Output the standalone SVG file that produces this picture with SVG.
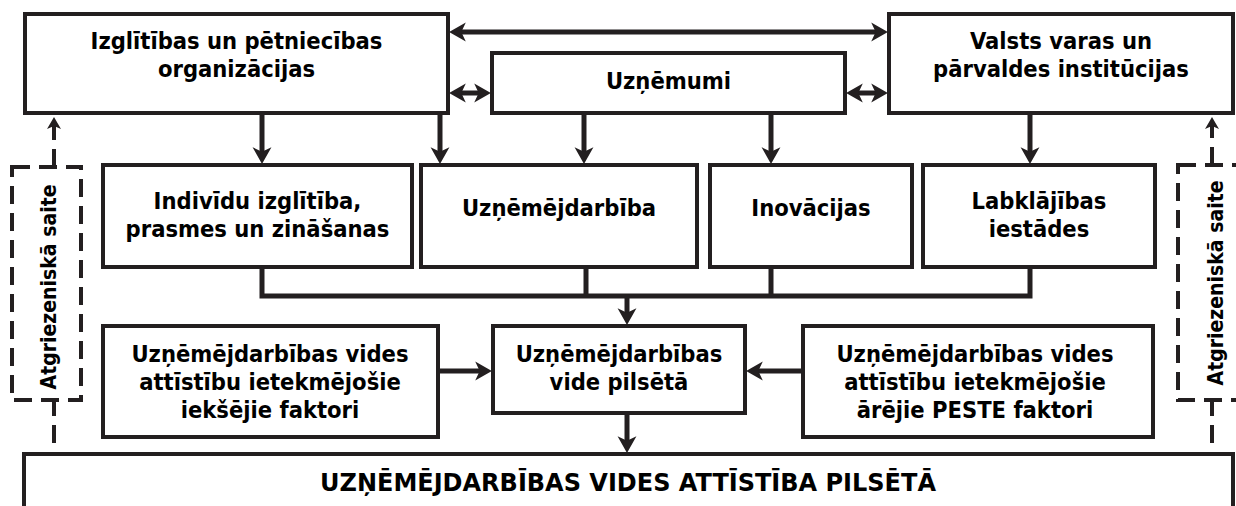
<svg xmlns="http://www.w3.org/2000/svg" width="1236" height="506" viewBox="0 0 1236 506">
<style>
.box{fill:#fff;stroke:#231f20;stroke-width:4}
.t{font-family:"DejaVu Sans Condensed","DejaVu Sans",sans-serif;font-weight:bold;font-size:23.5px;fill:#000;text-anchor:middle}
.c{fill:none;stroke:#231f20;stroke-width:5}
.d{fill:none;stroke:#231f20;stroke-width:4;stroke-dasharray:18 9}
</style>
<defs>
<marker id="ah" markerUnits="userSpaceOnUse" markerWidth="20" markerHeight="20" viewBox="0 -9 16 18" refX="7" refY="0" orient="auto-start-reverse">
<path d="M0,-8.5 L15,0 L0,8.5 L4,0 Z" fill="#231f20"/>
</marker>
<marker id="ahs" markerUnits="userSpaceOnUse" markerWidth="16" markerHeight="16" viewBox="0 -8 14 16" refX="5" refY="0" orient="auto">
<path d="M0,-7 L12,0 L0,7 L3,0 Z" fill="#231f20"/>
</marker>
</defs>

<g id="connectors">
<path class="c" d="M458,32 H879" marker-start="url(#ah)" marker-end="url(#ah)"/>
<path class="c" d="M458,93 H482" marker-start="url(#ah)" marker-end="url(#ah)"/>
<path class="c" d="M855,93 H879" marker-start="url(#ah)" marker-end="url(#ah)"/>
<path class="c" d="M262,115 V155" marker-end="url(#ah)"/>
<path class="c" d="M440,115 V155" marker-end="url(#ah)"/>
<path class="c" d="M584,115 V155" marker-end="url(#ah)"/>
<path class="c" d="M771,115 V155" marker-end="url(#ah)"/>
<path class="c" d="M1030,115 V155" marker-end="url(#ah)"/>
<path class="c" d="M262,267 V296 H1030 V267 M586,267 V296 M771,267 V296"/>
<path class="c" d="M627,296 V316" marker-end="url(#ah)"/>
<path class="c" d="M440,371 H483" marker-end="url(#ah)"/>
<path class="c" d="M801,371 H755" marker-end="url(#ah)"/>
<path class="c" d="M627,415 V444" marker-end="url(#ah)"/>
<path class="d" d="M54,443 V400"/>
<path class="d" d="M54,167 V124" marker-end="url(#ahs)"/>
<path class="d" d="M1212,443 V400"/>
<path class="d" d="M1212,165 V124" marker-end="url(#ahs)"/>
</g>

<g id="feedback-left">
<rect x="12" y="167" width="69" height="233" class="d"/>
<text class="t" style="font-size:21px" transform="translate(56,287) rotate(-90)">Atgriezeniskā saite</text>
</g>
<g id="feedback-right">
<rect x="1178" y="165" width="80" height="235" class="d"/>
<text class="t" style="font-size:21px" transform="translate(1223,283) rotate(-90)">Atgriezeniskā saite</text>
</g>

<g id="izglitibas-org">
<rect x="25" y="14" width="423" height="99" class="box"/>
<text class="t" x="236.5" y="49">Izglītības un pētniecības</text>
<text class="t" x="236.5" y="77">organizācijas</text>
</g>
<g id="uznemumi">
<rect x="492" y="53" width="353" height="60" class="box"/>
<text class="t" x="668.5" y="89">Uzņēmumi</text>
</g>
<g id="valsts">
<rect x="889" y="14" width="344" height="99" class="box"/>
<text class="t" x="1061" y="49">Valsts varas un</text>
<text class="t" x="1061" y="77">pārvaldes institūcijas</text>
</g>

<g id="individu">
<rect x="103" y="165" width="309" height="102" class="box"/>
<text class="t" x="257.5" y="209">Indivīdu izglītība,</text>
<text class="t" x="257.5" y="237">prasmes un zināšanas</text>
</g>
<g id="uznemejdarbiba">
<rect x="421" y="165" width="276" height="102" class="box"/>
<text class="t" x="559" y="216">Uzņēmējdarbība</text>
</g>
<g id="inovacijas">
<rect x="710" y="165" width="202" height="102" class="box"/>
<text class="t" x="811" y="216">Inovācijas</text>
</g>
<g id="labklajibas">
<rect x="923" y="165" width="232" height="102" class="box"/>
<text class="t" x="1039" y="209">Labklājības</text>
<text class="t" x="1039" y="237">iestādes</text>
</g>

<g id="iekseji">
<rect x="103" y="326" width="335" height="111" class="box"/>
<text class="t" x="270" y="362">Uzņēmējdarbības vides</text>
<text class="t" x="270" y="390">attīstību ietekmējošie</text>
<text class="t" x="270" y="418">iekšējie faktori</text>
</g>
<g id="vide-pilseta">
<rect x="493" y="326" width="252" height="87" class="box"/>
<text class="t" x="619" y="362">Uzņēmējdarbības</text>
<text class="t" x="619" y="390">vide pilsētā</text>
</g>
<g id="areji">
<rect x="803" y="326" width="350" height="111" class="box"/>
<text class="t" x="975" y="362">Uzņēmējdarbības vides</text>
<text class="t" x="975" y="390">attīstību ietekmējošie</text>
<text class="t" x="975" y="418">ārējie PESTE faktori</text>
</g>

<g id="attistiba">
<rect x="24" y="454" width="1209" height="70" class="box"/>
<text class="t" style="font-family:'DejaVu Sans',sans-serif;font-size:24px" x="628" y="491">UZŅĒMĒJDARBĪBAS VIDES ATTĪSTĪBA PILSĒTĀ</text>
</g>
</svg>
